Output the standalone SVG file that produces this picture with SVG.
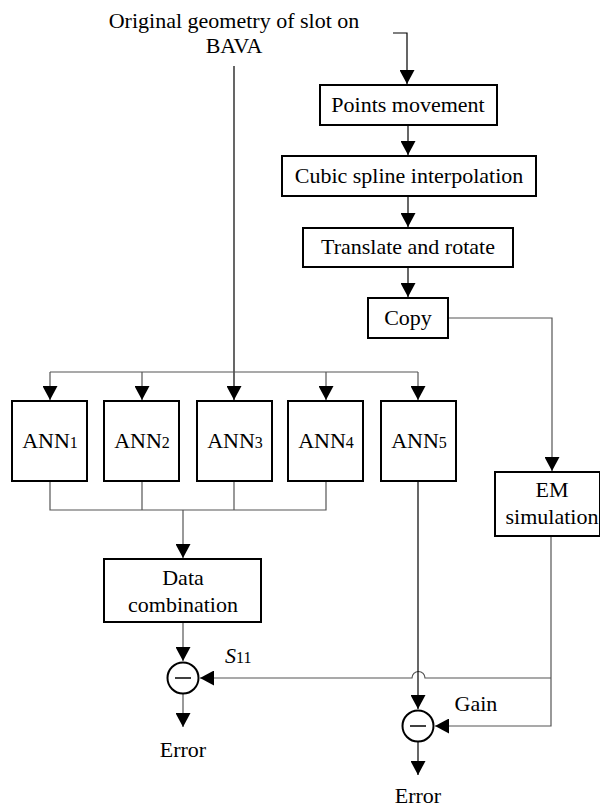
<svg xmlns="http://www.w3.org/2000/svg" width="600" height="807" viewBox="0 0 600 807">
<style>
.box{fill:#fff;stroke:#000;stroke-width:2}
.t{font-family:"Liberation Serif","Times New Roman",serif;font-size:22px;fill:#000;text-anchor:middle}
.c{fill:none;stroke:#555;stroke-width:1.2}
.k{fill:none;stroke:#000;stroke-width:1.2}
.sum{fill:#fff;stroke:#000;stroke-width:2}
</style>
<defs>
<marker id="ah" viewBox="0 0 14 15" refX="14" refY="7.5" markerWidth="14" markerHeight="15" markerUnits="userSpaceOnUse" orient="auto">
<path d="M0,0 L14,7.5 L0,15 Z" fill="#000"/>
</marker>
</defs>
<rect width="600" height="807" fill="#fff"/>
<g id="connectors">
<path class="k" d="M393,33 H407 V84" marker-end="url(#ah)"/>
<path class="k" d="M408,125 V155" marker-end="url(#ah)"/>
<path class="k" d="M408,196 V227" marker-end="url(#ah)"/>
<path class="k" d="M408,267 V297" marker-end="url(#ah)"/>
<path class="c" d="M448,318 H552 V471" marker-end="url(#ah)"/>
<path class="k" d="M234,66 V400" marker-end="url(#ah)"/>
<path class="c" d="M50,372 H418"/>
<path class="c" d="M50,372 V400" marker-end="url(#ah)"/>
<path class="c" d="M142,372 V400" marker-end="url(#ah)"/>
<path class="c" d="M326,372 V400" marker-end="url(#ah)"/>
<path class="c" d="M418,372 V400" marker-end="url(#ah)"/>
<path class="c" d="M50,481 V510 H326 V481"/>
<path class="c" d="M142,481 V510 M234,481 V510"/>
<path class="c" d="M183,510 V558" marker-end="url(#ah)"/>
<path class="c" d="M183,622 V661" marker-end="url(#ah)"/>
<path class="c" d="M551,536 V726 H435" marker-end="url(#ah)"/>
<path class="c" d="M551,678 H425 A6.5,6.5 0 0 0 412,678 H200" marker-end="url(#ah)"/>
<path class="k" d="M418,481 V709" marker-end="url(#ah)"/>
<path class="c" d="M183,694 V727" marker-end="url(#ah)"/>
<path class="k" d="M418,742 V775" marker-end="url(#ah)"/>
</g>
<g id="title">
<text class="t" x="234" y="28">Original geometry of slot on</text>
<text class="t" x="234" y="53">BAVA</text>
</g>
<g id="points"><rect class="box" x="320" y="85" width="177" height="40"/><text class="t" x="408" y="112">Points movement</text></g>
<g id="spline"><rect class="box" x="282" y="156" width="254" height="40"/><text class="t" x="409" y="183">Cubic spline interpolation</text></g>
<g id="translate"><rect class="box" x="303" y="228" width="210" height="39"/><text class="t" x="408" y="254">Translate and rotate</text></g>
<g id="copy"><rect class="box" x="368" y="298" width="80" height="40"/><text class="t" x="408" y="325">Copy</text></g>
<g id="ann1"><rect class="box" x="12" y="401" width="75" height="80"/><text class="t" x="50" y="448">ANN<tspan font-size="16">1</tspan></text></g>
<g id="ann2"><rect class="box" x="104" y="401" width="75" height="80"/><text class="t" x="142" y="448">ANN<tspan font-size="16">2</tspan></text></g>
<g id="ann3"><rect class="box" x="197" y="401" width="75" height="80"/><text class="t" x="235" y="448">ANN<tspan font-size="16">3</tspan></text></g>
<g id="ann4"><rect class="box" x="288" y="401" width="75" height="80"/><text class="t" x="326" y="448">ANN<tspan font-size="16">4</tspan></text></g>
<g id="ann5"><rect class="box" x="381" y="401" width="75" height="80"/><text class="t" x="419" y="448">ANN<tspan font-size="16">5</tspan></text></g>
<g id="em"><rect class="box" x="495" y="472" width="105" height="64"/><text class="t" x="552" y="497">EM</text><text class="t" x="552" y="524">simulation</text></g>
<g id="datacomb"><rect class="box" x="104" y="559" width="157" height="63"/><text class="t" x="183" y="585">Data</text><text class="t" x="183" y="612">combination</text></g>
<g id="sum1"><circle class="sum" cx="183" cy="678" r="15.5"/><line x1="175" y1="678" x2="191" y2="678" stroke="#000" stroke-width="1.5"/></g>
<g id="sum2"><circle class="sum" cx="418" cy="726" r="15.5"/><line x1="410" y1="726" x2="426" y2="726" stroke="#000" stroke-width="1.5"/></g>
<g id="labels">
<text class="t" x="225" y="663" style="text-anchor:start"><tspan font-style="italic">S</tspan><tspan font-size="16">11</tspan></text>
<text class="t" x="476" y="711">Gain</text>
<text class="t" x="183" y="757">Error</text>
<text class="t" x="418" y="803">Error</text>
</g>
</svg>
